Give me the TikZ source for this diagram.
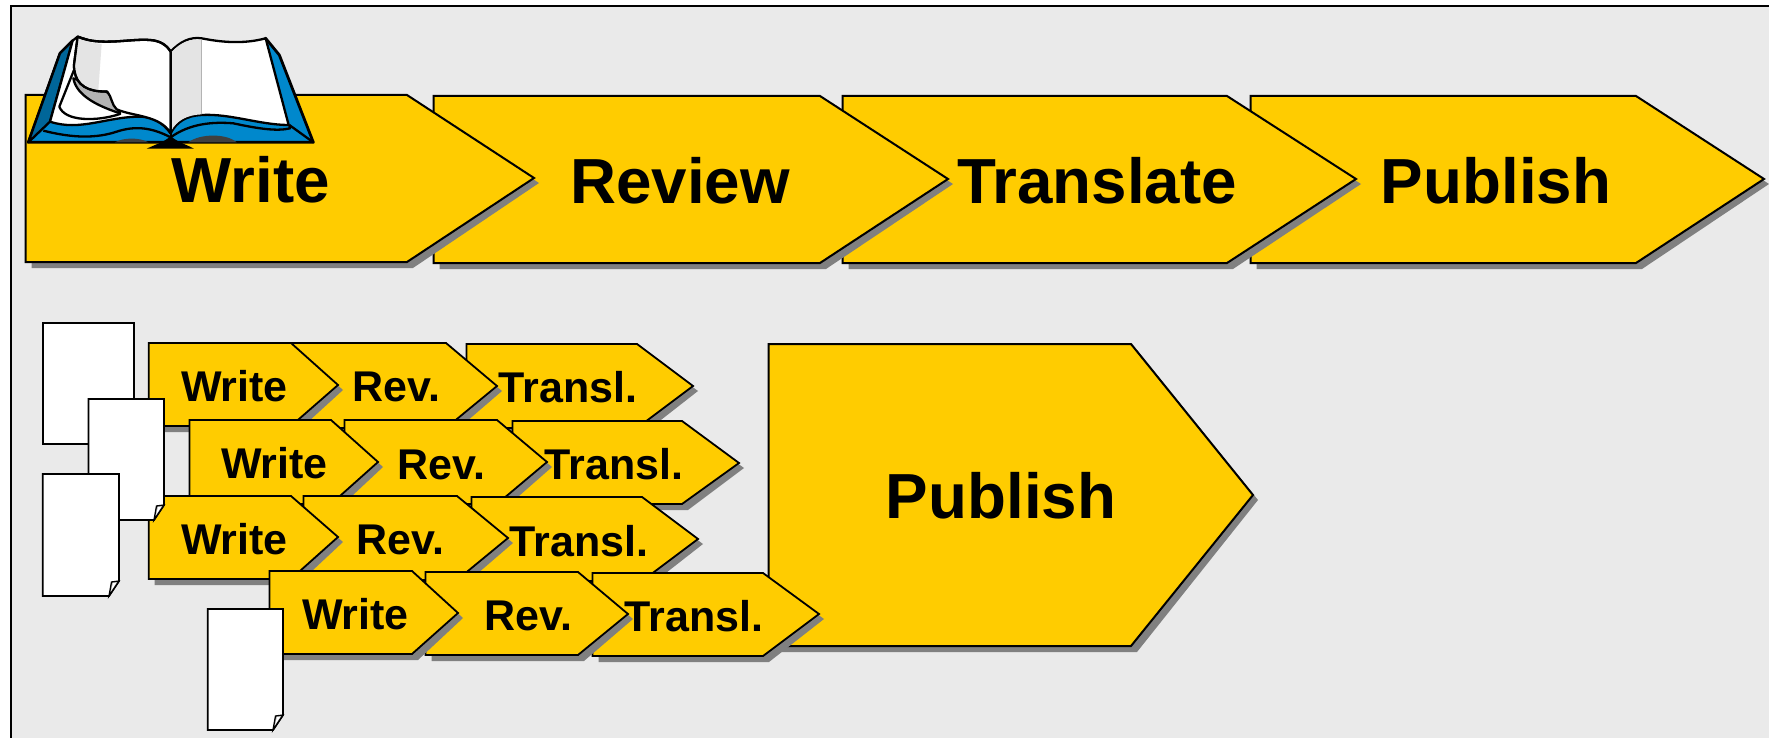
\documentclass[tikz,border=0pt]{standalone}
\usepackage{fontspec}
\setmainfont{Liberation Sans}
\definecolor{chevfill}{HTML}{FFCC00}
\definecolor{panelbg}{HTML}{EAEAEA}
\definecolor{shade}{HTML}{808080}
\definecolor{bookblue}{HTML}{0088CC}
\definecolor{bookdark}{HTML}{006699}
\definecolor{pagegray}{HTML}{E4E4E4}
\definecolor{curlgray}{HTML}{B3B3B3}
\definecolor{gutter}{HTML}{404040}
\tikzset{
  bigtext/.style={font=\fontsize{63.7}{70}\selectfont\bfseries,anchor=base,inner sep=0pt},
  smalltext/.style={font=\fontsize{43}{48}\selectfont\bfseries,anchor=base,inner sep=0pt},
  chevline/.style={draw=black,line width=2pt,line join=miter,fill=chevfill},
  chevshade/.style={fill=shade},
  docline/.style={draw=black,line width=1.8pt,fill=white,line join=miter},
  bookline/.style={draw=black,line width=2.3pt,line join=round},
}
\newcommand{\docsheet}[5]{% name, left, top, right, bottom
  \coordinate (#1) at (#2,#3);
  \draw[docline] (#2,#3) -- (#4,#3) -- (#4,#5-15) -- (#4-10,#5) -- (#2,#5) -- cycle;
  \draw[fill=curlgray,draw=black,line width=1.3pt] (#4-10,#5) -- (#4-7.5,#5-14) -- (#4,#5-15) -- cycle;
  \fill[white] (#4-8,#5-5) -- (#4-6,#5-13) -- (#4-2.5,#5-13.5) -- cycle;
}
\begin{document}
\begin{tikzpicture}[x=1pt,y=-1pt]
\useasboundingbox (0,0) rectangle (1769,738);
\fill[white] (0,0) rectangle (1769,738);
\fill[panelbg] (11,6) rectangle (1769,738);
\draw[black,line width=1.8pt] (11,738) -- (11,6) -- (1769,6);

% top row, last first so that each tip lies over the next one
\foreach \n/\l/\t/\s/\x/\y/\b/\tx/\ty/\lab in {
  tpub/1250.5/96/1636/1764/179/263/1496/203.5/Publish,
  ttra/842.5/96/1227/1356/179/263/1097/203.5/Translate,
  trev/433.5/96/820/948/179/263/680/203.5/Review,
  twri/25.5/95/407/534/178/262/251/202.5/Write}{
  \fill[chevshade] (\l+6,\t+6) -- (\s+6,\t+6) -- (\x+5,\y+5) -- (\s+6,\b+6) -- (\l+6,\b+6) -- cycle;
  \draw[chevline] (\l,\t) -- (\s,\t) -- (\x,\y) -- (\s,\b) -- (\l,\b) -- cycle;
  \node[bigtext] (\n) at (\tx,\ty) {\lab};
}

% large Publish
\fill[chevshade] (774,350) -- (1137,350) -- (1258,500) -- (1137,652) -- (774,652) -- cycle;
\draw[chevline] (768.5,344) -- (1131,344) -- (1253,495) -- (1131,646) -- (768.5,646) -- cycle;
\node[bigtext] (bigpub) at (1001,518.5) {Publish};

% small rows
\foreach \n/\l/\t/\s/\x/\y/\b/\tx/\ty/\lab in {
  tr1/466.5/344/637/693/386/428/568/402/Transl.,
  re1/285/343/446/497/386/428/396.5/401/Rev.,
  wr1/148.7/343/291/338/385/426/234.5/401/Write,
  tr2/512.5/421/682/739/463/504/614/479/Transl.,
  re2/344.5/420/497/547/462/504/441.5/479/Rev.,
  wr2/189.5/420/331/378/462/504/274.5/478/Write,
  tr3/471.5/497/642/698/539/581/579/556/Transl.,
  re3/303.5/496/457/508/538/580/400.5/554/Rev.,
  wr3/148.7/496/291/338/537/579/234.5/554/Write,
  tr4/592.5/573/763/819/614/656/694/631/Transl.,
  re4/425.5/572/578/628/614/655/528.5/630/Rev.,
  wr4/269.5/571/412/458/613/654/355.5/629/Write}{
  \fill[chevshade] (\l+6,\t+6) -- (\s+6,\t+6) -- (\x+5,\y+5) -- (\s+6,\b+6) -- (\l+6,\b+6) -- cycle;
  \draw[chevline,line width=1.8pt] (\l,\t) -- (\s,\t) -- (\x,\y) -- (\s,\b) -- (\l,\b) -- cycle;
  \node[smalltext] (\n) at (\tx,\ty) {\lab};
}

% sheets of paper
\coordinate (docA) at (42.7,323);
\draw[docline] (42.7,323) rectangle (134,444);
\docsheet{docB}{88.5}{399}{164}{520}
\docsheet{docC}{42.7}{474}{119}{596}
\docsheet{docD}{207.7}{609}{283}{730}

% open book, coordinates at three times the picture's scale
\begin{scope}[scale=1/3]
  \draw[bookline,fill=bookblue,line width=2.8pt] (85,427) -- (180,160) -- (218,122) -- (300,250) -- (700,250) -- (797,115) -- (838,165) -- (940,427) -- cycle;
  \draw[bookline,fill=bookdark] (85,427) -- (180,160) -- (218,122) -- (150,365) -- cycle;
  \draw[bookline] (940,427) -- (868,375);
  \fill[gutter] (345,427) .. controls (370,412) and (420,412) .. (445,427) -- cycle;
  \fill[gutter] (565,427) .. controls (600,400) and (680,400) .. (710,427) -- cycle;
  \draw[bookline] (130,392) .. controls (220,415) and (290,415) .. (350,395) .. controls (410,375) and (460,385) .. (512,412) .. controls (570,370) and (640,365) .. (700,370) .. controls (770,385) and (830,395) .. (870,385) -- (868,375);
  % left page stack
  \draw[bookline,fill=white] (218,122) -- (150,365) .. controls (240,395) and (320,350) .. (420,350) .. controls (460,350) and (490,370) .. (512,400) -- (512,200) -- (233,110) -- cycle;
  \draw[bookline,fill=white] (222,210) -- (178,320) .. controls (195,365) and (290,365) .. (360,342) -- (330,260) -- cycle;
  \draw[bookline,fill=curlgray] (220,235) .. controls (230,290) and (300,320) .. (360,340) -- (340,290) -- (300,262) -- cycle;
  % top left page
  \draw[bookline,fill=white] (233,110) .. controls (300,140) and (390,115) .. (450,120) .. controls (480,122) and (500,135) .. (512,155) -- (512,400) .. controls (480,345) and (400,350) .. (350,328) .. controls (335,315) and (335,290) .. (322,275) -- (300,274) .. controls (250,270) and (222,245) .. (222,195) -- cycle;
  \fill[pagegray] (235,115) .. controls (260,125) and (285,130) .. (305,132) -- (295,270) .. controls (250,265) and (227,240) .. (225,195) -- cycle;
  \draw[bookline] (233,110) .. controls (300,140) and (390,115) .. (450,120) .. controls (480,122) and (500,135) .. (512,155);
  \draw[bookline] (322,275) -- (300,274) .. controls (250,270) and (222,245) .. (222,195) -- (233,110);
  % right page
  \draw[bookline,fill=white] (512,155) .. controls (540,125) and (570,110) .. (605,115) .. controls (680,130) and (740,130) .. (797,115) -- (866,375) .. controls (780,375) and (690,340) .. (605,345) .. controls (560,347) and (530,365) .. (512,400) -- cycle;
  \fill[pagegray] (514,157) .. controls (540,128) and (570,115) .. (605,119) -- (605,343) .. controls (560,345) and (530,362) .. (514,392) -- cycle;
  \draw[curlgray,line width=1pt] (605,119) -- (605,343);
  \draw[bookline] (512,155) -- (512,410);
  % spine foot
  \fill[black] (440,446) .. controls (470,432) and (495,425) .. (512,408) .. controls (530,425) and (555,432) .. (582,446) -- cycle;
\end{scope}
\end{tikzpicture}
\end{document}
